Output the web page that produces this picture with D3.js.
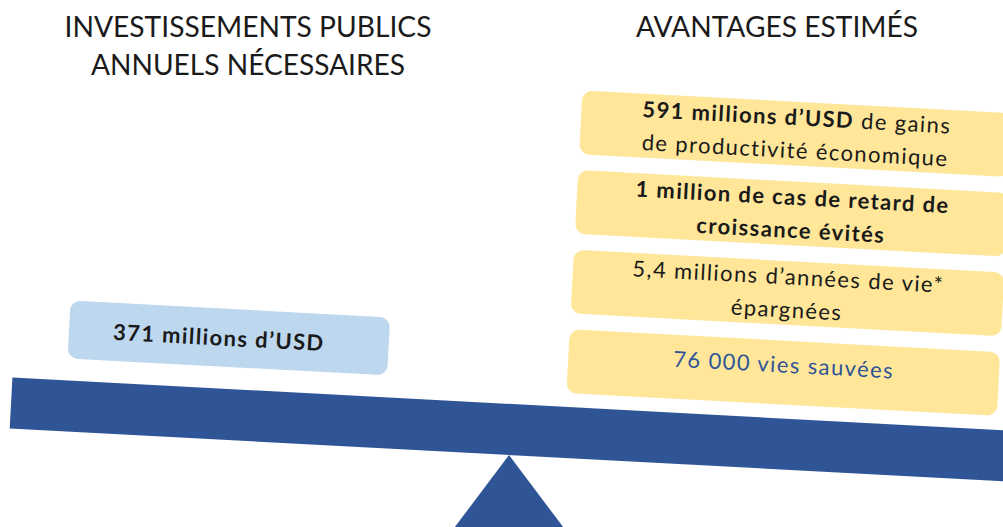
<!DOCTYPE html>
<html>
<head>
<meta charset="utf-8">
<script src="https://cdn.jsdelivr.net/npm/d3@7"></script>
<style>
  body { margin: 0; background: #fff; }
  svg { display: block; font-family: Lato, "Open Sans", sans-serif; }
</style>
</head>
<body>
<svg id="chart"></svg>
<script>
// Headings
var costTitle = ["INVESTISSEMENTS PUBLICS", "ANNUELS NÉCESSAIRES"];
var benefitTitle = ["AVANTAGES ESTIMÉS"];

// Left pan: annual public investment (box -> lines -> spans)
var costLabel = [
  [[{ t: "371 millions d’USD", b: true }]]
];

// Right pan: estimated benefits, one entry per box, one array per line
var benefitLabels = [
  [[{ t: "591 millions d’USD", b: true }, { t: " de gains", b: false }],
   [{ t: "de productivité économique", b: false }]],
  [[{ t: "1 million de cas de retard de", b: true }],
   [{ t: "croissance évités", b: true }]],
  [[{ t: "5,4 millions d’années de vie*", b: false }],
   [{ t: "épargnées", b: false }]],
  [[{ t: "76 000 vies sauvées", b: false }]]
];

var width = 1003,
    height = 527,
    pivotX = 509,
    pivotY = 455,
    tilt = 3.05,
    lineHeight = 33;

var blue = "#2F5597",
    yellow = "#FFE699",
    lightBlue = "#BDD7EE";

var svg = d3.select("#chart")
  .attr("width", width)
  .attr("height", height);

// Titles (not tilted)
svg.selectAll(".cost-title")
  .data(costTitle)
  .enter().append("text")
  .attr("class", "cost-title")
  .attr("x", 248)
  .attr("y", function(d, i) { return 37 + i * 38; })
  .attr("text-anchor", "middle")
  .attr("font-size", 28)
  .attr("fill", "#1a1a1a")
  .attr("textLength", function(d, i) { return i == 0 ? 367 : 314; })
  .attr("lengthAdjust", "spacingAndGlyphs")
  .text(function(d) { return d; });

svg.selectAll(".benefit-title")
  .data(benefitTitle)
  .enter().append("text")
  .attr("class", "benefit-title")
  .attr("x", 777)
  .attr("y", 37)
  .attr("text-anchor", "middle")
  .attr("font-size", 28)
  .attr("fill", "#1a1a1a")
  .attr("textLength", 282)
  .attr("lengthAdjust", "spacingAndGlyphs")
  .text(function(d) { return d; });

// Fulcrum
svg.append("path")
  .attr("d", "M" + pivotX + "," + pivotY +
             "L" + (pivotX - 115) + "," + (pivotY + 153) +
             "L" + (pivotX + 115) + "," + (pivotY + 153) + "Z")
  .attr("fill", blue);

// Tilted scale, local coords with origin at the pivot
var scale = svg.append("g")
  .attr("transform", "translate(" + pivotX + "," + pivotY + ")rotate(" + tilt + ")");

scale.append("rect")
  .attr("x", -500)
  .attr("y", -51)
  .attr("width", 1040)
  .attr("height", 51)
  .attr("fill", blue);

// Box stacks
var yCost = d3.scaleBand()
  .domain(d3.range(costLabel.length))
  .range([-131, -73]);

var yBenefit = d3.scaleBand()
  .domain(d3.range(benefitLabels.length))
  .range([-368, -65])
  .paddingInner(0.2);

function drawBoxes(data, y, x0, x1, fill, cls) {
  var g = scale.selectAll("." + cls)
    .data(data)
    .enter().append("g")
    .attr("class", cls);

  g.append("rect")
    .attr("x", x0)
    .attr("y", function(d, i) { return y(i); })
    .attr("width", x1 - x0)
    .attr("height", y.bandwidth())
    .attr("rx", 10)
    .attr("fill", fill);

  // text sits slightly left of centre in the cost box
  var cx = (x0 + x1) / 2 - (cls == "cost" ? 10 : 0);

  g.append("text")
    .attr("text-anchor", "middle")
    .attr("font-size", 22)
    .attr("letter-spacing", 1.4)
    .attr("fill", function(d, i) { return cls == "benefit" && i == 3 ? blue : "#1a1a1a"; })
    .each(function(lines, i) {
      var text = d3.select(this),
          mid = y(i) + y.bandwidth() / 2,
          shift = lines.length == 1 && cls == "benefit" ? 0 : 8;
      lines.forEach(function(line, j) {
        var base = mid + (j - (lines.length - 1) / 2) * lineHeight + shift;
        line.forEach(function(span, k) {
          var ts = text.append("tspan")
            .attr("font-weight", span.b ? 700 : 400)
            .text(span.t);
          if (k == 0) ts.attr("x", cx).attr("y", base);
        });
      });
    });
}

drawBoxes(costLabel, yCost, -446, -126, lightBlue, "cost");
drawBoxes(benefitLabels, yBenefit, 54, 485, yellow, "benefit");
</script>
</body>
</html>
